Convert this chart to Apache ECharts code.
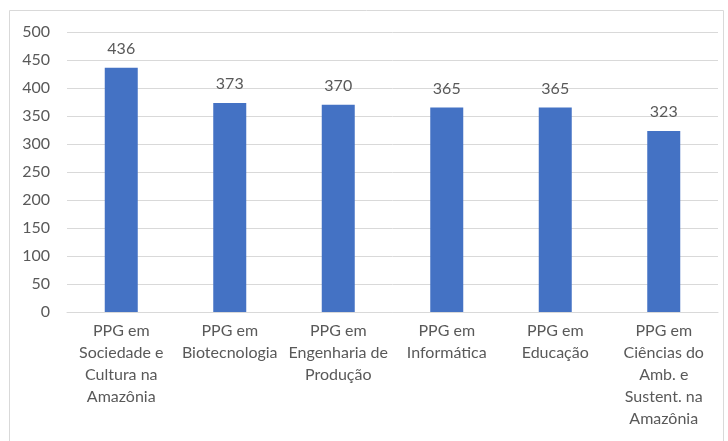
<!DOCTYPE html>
<html>
<head>
<meta charset="utf-8">
<script src="https://cdn.jsdelivr.net/npm/echarts@6/dist/echarts.min.js"></script>
<style>
  html, body { margin: 0; padding: 0; background: #fff; }
  #chart { width: 728px; height: 441px; }
</style>
</head>
<body>
<div id="chart"></div>
<script>
// categorias (quebras de linha como no original)
const categories = [
  'PPG em\nSociedade e\nCultura na\nAmazônia',
  'PPG em\nBiotecnologia',
  'PPG em\nEngenharia de\nProdução',
  'PPG em\nInformática',
  'PPG em\nEducação',
  'PPG em\nCiências do\nAmb. e\nSustent. na\nAmazônia'
]
const values = [436, 373, 370, 365, 365, 323]
const yTicks = { min: 0, max: 500, interval: 50 }

const chart = echarts.init(document.getElementById('chart'))

const textColor = '#595959'
const gridColor = '#d9d9d9'

chart.setOption({
  animation: false,
  textStyle: { fontFamily: 'Lato' },
  graphic: [
    {
      type: 'rect',
      shape: { x: 9.5, y: 10.5, width: 714, height: 440 },
      style: { fill: 'none', stroke: gridColor, lineWidth: 1 },
      silent: true
    }
  ],
  grid: { left: 67, right: 10, top: 32, bottom: 129 },
  xAxis: {
    type: 'category',
    data: categories,
    axisLine: { lineStyle: { color: gridColor } },
    axisTick: { show: false },
    axisLabel: {
      interval: 0,
      color: textColor,
      fontSize: 16,
      lineHeight: 22,
      margin: 8,
      fontFamily: 'Lato'
    }
  },
  yAxis: {
    type: 'value',
    min: yTicks.min,
    max: yTicks.max,
    interval: yTicks.interval,
    axisLine: { show: false },
    axisTick: { show: false },
    splitLine: { lineStyle: { color: gridColor } },
    axisLabel: {
      color: textColor,
      fontSize: 16,
      margin: 17,
      fontFamily: 'Lato'
    }
  },
  series: [
    {
      type: 'bar',
      data: values,
      barWidth: 33,
      itemStyle: { color: '#4472C4' },
      label: {
        show: true,
        position: 'top',
        distance: 11,
        color: textColor,
        fontSize: 16,
        fontFamily: 'Lato'
      }
    }
  ]
})
</script>
</body>
</html>
